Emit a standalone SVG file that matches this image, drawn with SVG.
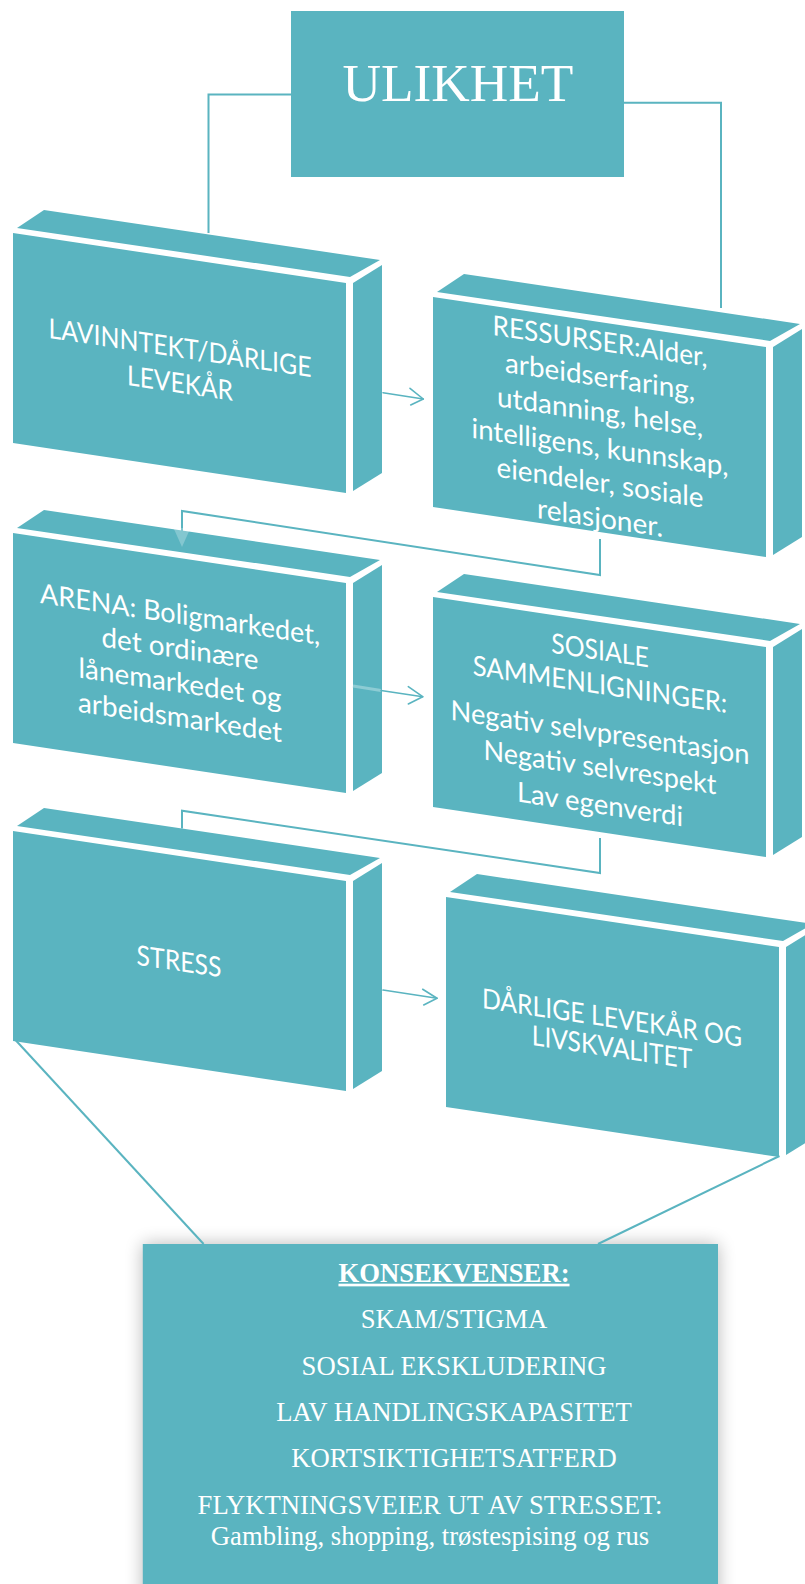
<svg xmlns="http://www.w3.org/2000/svg" xmlns:xlink="http://www.w3.org/1999/xlink" width="805" height="1584" viewBox="0 0 805 1584">
  <style>
    .face { fill: #5AB4C0; }
    .lbl { font-family: Lato, "Open Sans", sans-serif; font-size: 27.8px; fill: #ffffff; text-anchor: middle; }
    .serif { font-family: "Liberation Serif", "Times New Roman", serif; fill: #ffffff; text-anchor: middle; }
    .link { fill: none; stroke: #5AB4C0; stroke-width: 2; stroke-linejoin: miter; }
    .thin { fill: none; stroke: #5AB4C0; stroke-width: 1.6; stroke-linecap: round; stroke-linejoin: round; }
  </style>
  <defs>
    <!-- 3D slab: top, front and side faces separated by white seams -->
    <g id="slab">
      <polygon class="face" points="17,228 44,210 380,260 350,277"/>
      <polygon class="face" points="13,233 346,283 346,493 13,443"/>
      <polygon class="face" points="353,283 382,265 382,473 353,491"/>
    </g>
    <filter id="soft" x="-20%" y="-20%" width="140%" height="140%">
      <feGaussianBlur stdDeviation="9"/>
    </filter>
  </defs>

  <rect width="805" height="1584" fill="#ffffff"/>

  <!-- top node -->
  <g id="ulikhet">
    <rect class="face" x="291" y="11" width="333" height="166"/>
    <text class="serif" x="458" y="100.5" font-size="53.3">ULIKHET</text>
  </g>

  <g id="lavinntekt">
    <use xlink:href="#slab"/>
    <g transform="translate(180 0) skewY(8.48)">
      <text class="lbl" x="0" y="357.5" textLength="263" lengthAdjust="spacingAndGlyphs">LAVINNTEKT/DÅRLIGE</text>
      <text class="lbl" x="0" y="393" textLength="106" lengthAdjust="spacingAndGlyphs">LEVEKÅR</text>
    </g>
  </g>

  <g id="ressurser">
    <use xlink:href="#slab" transform="translate(420 64)"/>
    <g transform="translate(600 0) skewY(8.48)">
      <text class="lbl" x="0" y="351" textLength="215" lengthAdjust="spacingAndGlyphs">RESSURSER:Alder,</text>
      <text class="lbl" x="0" y="386.3" textLength="190" lengthAdjust="spacingAndGlyphs">arbeidserfaring,</text>
      <text class="lbl" x="0" y="421.6" textLength="206" lengthAdjust="spacingAndGlyphs">utdanning, helse,</text>
      <text class="lbl" x="0" y="456.9" textLength="257" lengthAdjust="spacingAndGlyphs">intelligens, kunnskap,</text>
      <text class="lbl" x="0" y="492.2" textLength="207" lengthAdjust="spacingAndGlyphs">eiendeler, sosiale</text>
      <text class="lbl" x="0" y="527.5" textLength="126" lengthAdjust="spacingAndGlyphs">relasjoner.</text>
    </g>
  </g>

  <g id="arena">
    <use xlink:href="#slab" transform="translate(0 300)"/>
    <g transform="translate(180 0) skewY(8.48)">
      <text class="lbl" x="0" y="624" textLength="280" lengthAdjust="spacingAndGlyphs">ARENA: Boligmarkedet,</text>
      <text class="lbl" x="0" y="658.3" textLength="157" lengthAdjust="spacingAndGlyphs">det ordinære</text>
      <text class="lbl" x="0" y="692.7" textLength="203" lengthAdjust="spacingAndGlyphs">lånemarkedet og</text>
      <text class="lbl" x="0" y="727" textLength="204" lengthAdjust="spacingAndGlyphs">arbeidsmarkedet</text>
    </g>
  </g>

  <g id="sammenligninger">
    <use xlink:href="#slab" transform="translate(420 364)"/>
    <g transform="translate(600 0) skewY(8.48)">
      <text class="lbl" x="0" y="660" textLength="97.5" lengthAdjust="spacingAndGlyphs">SOSIALE</text>
      <text class="lbl" x="0" y="694" textLength="254.5" lengthAdjust="spacingAndGlyphs">SAMMENLIGNINGER:</text>
      <text class="lbl" x="0" y="742" textLength="299" lengthAdjust="spacingAndGlyphs">Negativ selvpresentasjon</text>
      <text class="lbl" x="0" y="777" textLength="233" lengthAdjust="spacingAndGlyphs">Negativ selvrespekt</text>
      <text class="lbl" x="0" y="814" textLength="166" lengthAdjust="spacingAndGlyphs">Lav egenverdi</text>
    </g>
  </g>

  <g id="stress">
    <use xlink:href="#slab" transform="translate(0 598)"/>
    <g transform="translate(179 0) skewY(8.48)">
      <text class="lbl" x="0" y="971" textLength="85" lengthAdjust="spacingAndGlyphs">STRESS</text>
    </g>
  </g>

  <g id="levekaar">
    <use xlink:href="#slab" transform="translate(433 664)"/>
    <g transform="translate(612 0) skewY(8.48)">
      <text class="lbl" x="0" y="1027.5" textLength="260" lengthAdjust="spacingAndGlyphs">DÅRLIGE LEVEKÅR OG</text>
      <text class="lbl" x="0" y="1057" textLength="160.5" lengthAdjust="spacingAndGlyphs">LIVSKVALITET</text>
    </g>
  </g>

  <g id="konsekvenser">
    <rect x="142.8" y="1244" width="575.2" height="360" fill="#000000" opacity="0.28" filter="url(#soft)"/>
    <rect class="face" x="142.8" y="1244" width="575.2" height="345"/>
    <text class="serif" x="454" y="1281.7" font-size="26.67" font-weight="bold" text-decoration="underline">KONSEKVENSER:</text>
    <text class="serif" x="454" y="1328.3" font-size="26.67">SKAM/STIGMA</text>
    <text class="serif" x="454" y="1375" font-size="26.67">SOSIAL EKSKLUDERING</text>
    <text class="serif" x="454" y="1420.7" font-size="26.67">LAV HANDLINGSKAPASITET</text>
    <text class="serif" x="454" y="1467.3" font-size="26.67">KORTSIKTIGHETSATFERD</text>
    <text class="serif" x="430" y="1514.3" font-size="26.67">FLYKTNINGSVEIER UT AV STRESSET:</text>
    <text class="serif" x="430" y="1545" font-size="26.67">Gambling, shopping, trøstespising og rus</text>
  </g>

  <g id="connectors">
    <!-- from the top node down to the first row -->
    <polyline class="link" points="291,94.5 208.5,94.5 208.5,233"/>
    <polyline class="link" points="624,102.7 721,102.7 721,308"/>
    <!-- row 1 -->
    <line class="thin" x1="383" y1="392.7" x2="423.3" y2="399"/>
    <polyline class="thin" points="410,388.3 423.3,399 410.7,405"/>
    <!-- row 1 to row 2 -->
    <polyline class="link" points="600,539 600,575 182,511 182,546"/>
    <polygon points="173.5,528 190.5,528 182,547" fill="#ffffff" opacity="0.25"/>
    <!-- row 2 -->
    <line x1="353" y1="686" x2="381" y2="690.5" stroke="#8DCCD4" stroke-width="3"/>
    <line class="thin" x1="381" y1="690.5" x2="422.7" y2="696.7"/>
    <polyline class="thin" points="408.3,686.7 422.7,696.7 408.3,704"/>
    <!-- row 2 to row 3 -->
    <polyline class="link" points="600,838 600,873 182,810.7 182,828.5"/>
    <!-- row 3 -->
    <line class="thin" x1="383" y1="990" x2="437" y2="998.3"/>
    <polyline class="thin" points="422.7,989.3 437,998.3 423.7,1005"/>
    <!-- row 3 to the consequence box -->
    <line class="link" x1="15.5" y1="1040" x2="203.6" y2="1244"/>
    <line class="link" x1="779.5" y1="1156" x2="598" y2="1244"/>
  </g>
</svg>
